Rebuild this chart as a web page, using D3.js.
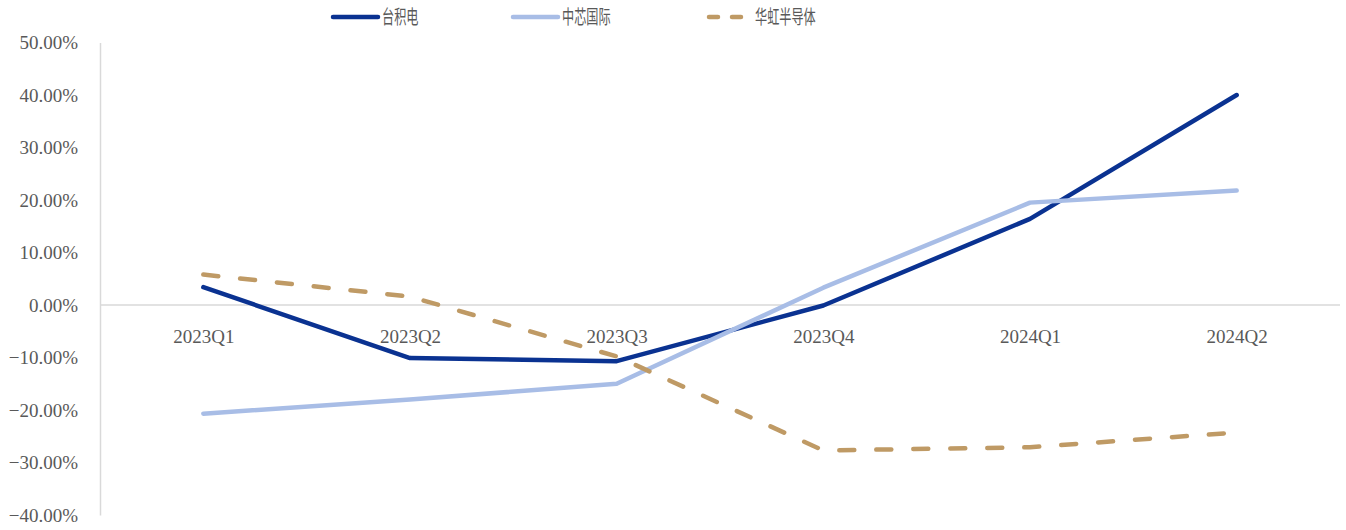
<!DOCTYPE html>
<html>
<head>
<meta charset="utf-8">
<script src="https://cdn.jsdelivr.net/npm/d3@7"></script>
<style>
  body { margin: 0; background: #fff; }
  svg { display: block; }
</style>
</head>
<body>
<svg id="chart"></svg>
<script>
// chart data
const quarters = ['2023Q1', '2023Q2', '2023Q3', '2023Q4', '2024Q1', '2024Q2'];
const tsmc = [0.034, -0.101, -0.107, -0.001, 0.164, 0.400];
const smic = [-0.207, -0.180, -0.150, 0.033, 0.195, 0.218];
const huahong = [0.058, 0.016, -0.098, -0.277, -0.271, -0.243];
const yTicks = [0.5, 0.4, 0.3, 0.2, 0.1, 0, -0.1, -0.2, -0.3, -0.4];

const WIDTH = 1346;
const HEIGHT = 530;
const LEFT = 100, RIGHT = 1340;

const svg = d3.select('#chart').attr('width', WIDTH).attr('height', HEIGHT);

const x = d3.scalePoint().domain(quarters).range([LEFT, RIGHT]).padding(0.5);
const y = d3.scaleLinear().domain([-0.4, 0.5]).range([515, 42.5]);

const serif = '"Liberation Serif", "DejaVu Serif", serif';
const cjk = '"Noto Sans CJK SC", sans-serif';

// y axis
const yAxis = svg.append('g')
    .attr('transform', `translate(${LEFT},0)`)
    .call(d3.axisLeft(y).tickValues(yTicks).tickSize(0).tickPadding(22)
        .tickFormat(d => d3.format('.2f')(d * 100) + '%'));
yAxis.select('.domain').attr('stroke', '#d9d9d9').attr('stroke-width', 1.5);
yAxis.selectAll('text').attr('fill', '#595959').style('font-family', serif).style('font-size', '19px');

// x axis on the zero line
const xAxis = svg.append('g')
    .attr('transform', `translate(0,${y(0)})`)
    .call(d3.axisBottom(x).tickSize(0).tickPadding(25));
xAxis.select('.domain').attr('d', `M${LEFT},0H${RIGHT}`).attr('stroke', '#d9d9d9').attr('stroke-width', 1.5);
xAxis.selectAll('text').attr('fill', '#595959').style('font-family', serif).style('font-size', '19px');

const series = [
    { name: '台积电', values: tsmc, color: '#0a3291', dash: null },
    { name: '中芯国际', values: smic, color: '#a8bde6', dash: null },
    { name: '华虹半导体', values: huahong, color: '#bf9a65', dash: '15,22' }
];

const line = d3.line().x((d, i) => x(quarters[i])).y(d => y(d));

svg.selectAll('path.series')
    .data(series)
    .enter()
    .append('path')
    .attr('class', 'series')
    .attr('d', d => line(d.values))
    .attr('fill', 'none')
    .attr('stroke', d => d.color)
    .attr('stroke-width', 4.5)
    .attr('stroke-linecap', 'round')
    .attr('stroke-linejoin', 'round')
    .attr('stroke-dasharray', d => d.dash);

// legend
const legendX = [333, 513, 707];
const legend = svg.append('g').attr('transform', 'translate(0,17)');
series.forEach((s, i) => {
    const g = legend.append('g').attr('transform', `translate(${legendX[i]},0)`);
    g.append('line')
        .attr('x1', s.dash ? 2 : 0).attr('x2', s.dash ? 36 : 45)
        .attr('stroke', s.color).attr('stroke-width', 4.5)
        .attr('stroke-linecap', 'round')
        .attr('stroke-dasharray', s.dash ? '9,14' : null);
    g.append('text')
        .attr('transform', `translate(${s.dash ? 48 : 49},0) scale(0.64,1)`)
        .attr('dy', '0.36em')
        .attr('fill', '#595959')
        .style('font-family', cjk)
        .style('font-size', '19px')
        .text(s.name);
});
</script>
</body>
</html>
